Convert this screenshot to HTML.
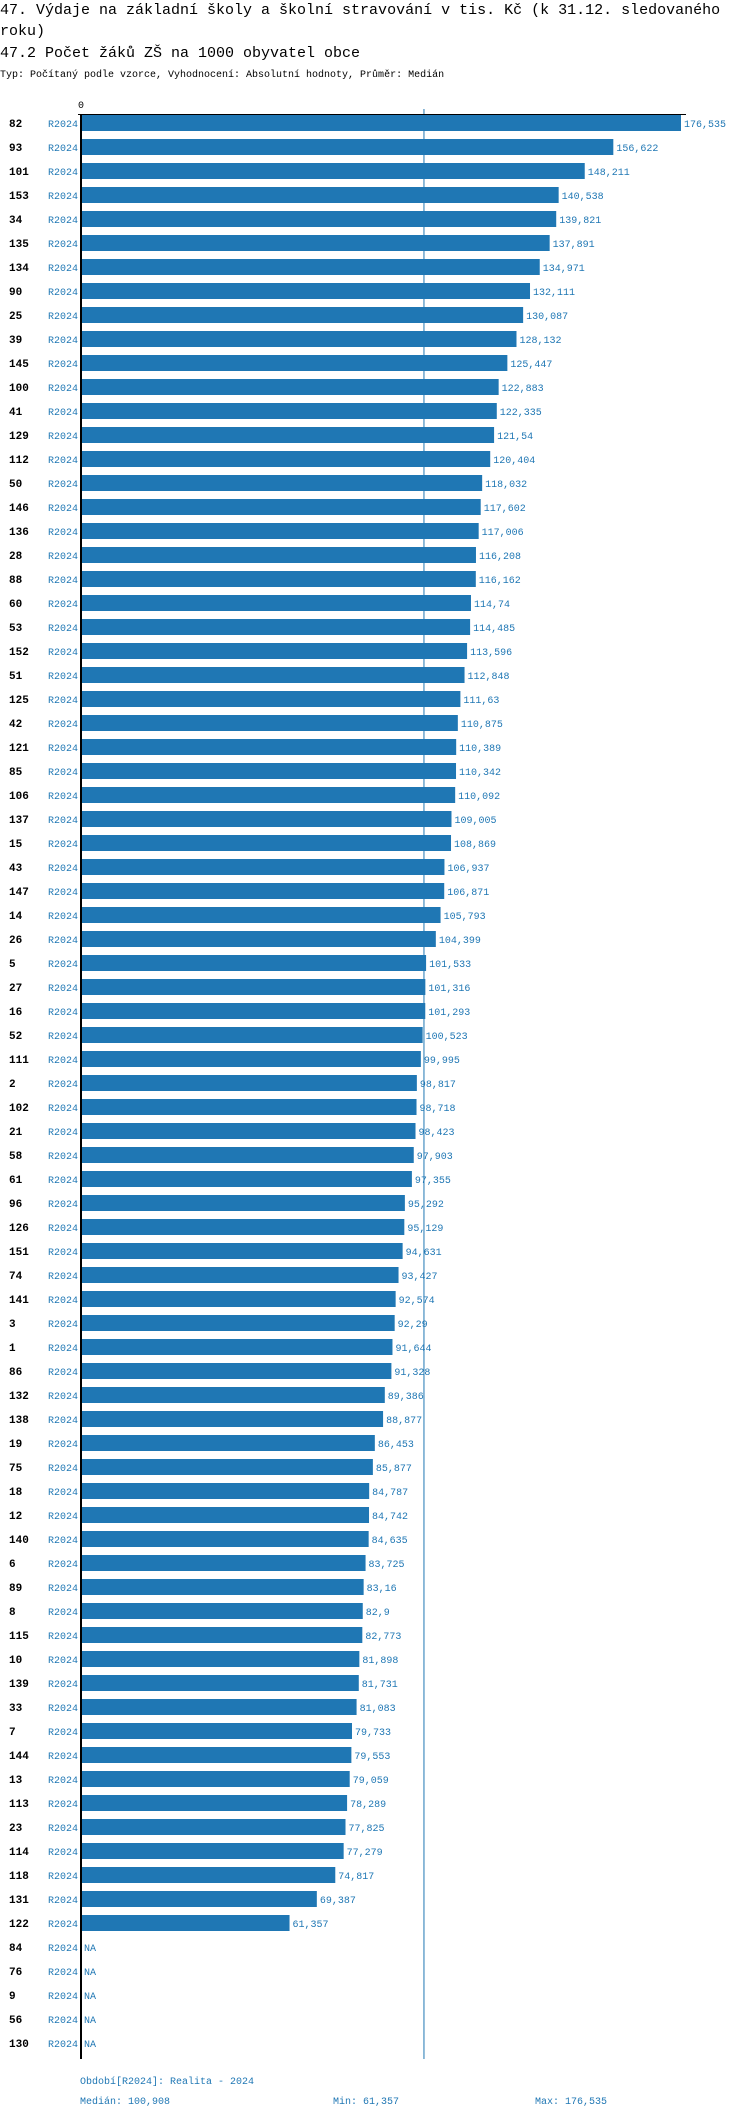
<!DOCTYPE html>
<html><head><meta charset="utf-8"><style>
body{margin:0;background:#fff;width:750px;height:2118px;overflow:hidden}
svg{display:block}
</style></head><body>
<svg id="chart" width="750" height="2118" xmlns="http://www.w3.org/2000/svg" font-family="Liberation Mono, DejaVu Sans Mono, monospace">
<text x="0" y="14" font-size="15" fill="#000">47. Výdaje na základní školy a školní stravování v tis. Kč (k 31.12. sledovaného</text>
<text x="0" y="35" font-size="15" fill="#000">roku)</text>
<text x="0" y="57" font-size="15" fill="#000">47.2 Počet žáků ZŠ na 1000 obyvatel obce</text>
<text x="0" y="77" font-size="10" fill="#000">Typ: Počítaný podle vzorce, Vyhodnocení: Absolutní hodnoty, Průměr: Medián</text>
<g id="marks"></g>
<text x="80" y="2084" font-size="10" fill="#1f77b4">Období[R2024]: Realita - 2024</text>
<text x="80" y="2104" font-size="10" fill="#1f77b4">Medián: 100,908</text>
<text x="333" y="2104" font-size="10" fill="#1f77b4">Min: 61,357</text>
<text x="535" y="2104" font-size="10" fill="#1f77b4">Max: 176,535</text>
</svg>
<script>
const categories=["82","93","101","153","34","135","134","90","25","39","145","100","41","129","112","50","146","136","28","88","60","53","152","51","125","42","121","85","106","137","15","43","147","14","26","5","27","16","52","111","2","102","21","58","61","96","126","151","74","141","3","1","86","132","138","19","75","18","12","140","6","89","8","115","10","139","33","7","144","13","113","23","114","118","131","122","84","76","9","56","130"];
const values=[176.535,156.622,148.211,140.538,139.821,137.891,134.971,132.111,130.087,128.132,125.447,122.883,122.335,121.54,120.404,118.032,117.602,117.006,116.208,116.162,114.74,114.485,113.596,112.848,111.63,110.875,110.389,110.342,110.092,109.005,108.869,106.937,106.871,105.793,104.399,101.533,101.316,101.293,100.523,99.995,98.817,98.718,98.423,97.903,97.355,95.292,95.129,94.631,93.427,92.574,92.29,91.644,91.328,89.386,88.877,86.453,85.877,84.787,84.742,84.635,83.725,83.16,82.9,82.773,81.898,81.731,81.083,79.733,79.553,79.059,78.289,77.825,77.279,74.817,69.387,61.357,null,null,null,null,null];
const valueLabels=["176,535","156,622","148,211","140,538","139,821","137,891","134,971","132,111","130,087","128,132","125,447","122,883","122,335","121,54","120,404","118,032","117,602","117,006","116,208","116,162","114,74","114,485","113,596","112,848","111,63","110,875","110,389","110,342","110,092","109,005","108,869","106,937","106,871","105,793","104,399","101,533","101,316","101,293","100,523","99,995","98,817","98,718","98,423","97,903","97,355","95,292","95,129","94,631","93,427","92,574","92,29","91,644","91,328","89,386","88,877","86,453","85,877","84,787","84,742","84,635","83,725","83,16","82,9","82,773","81,898","81,731","81,083","79,733","79,553","79,059","78,289","77,825","77,279","74,817","69,387","61,357","NA","NA","NA","NA","NA"];
const seriesName="R2024";
const medianValue=100.908;
const maxDomain=176.535;

const NS="http://www.w3.org/2000/svg";
const g=document.getElementById('marks');
const x0=81, x1=681;
function xScale(v){return x0+(v/maxDomain)*(x1-x0);}
function yCenter(i){return 123+24*i;}
function mk(tag,attrs){const e=document.createElementNS(NS,tag);for(const k in attrs)e.setAttribute(k,attrs[k]);g.appendChild(e);return e;}
const bottom=yCenter(categories.length-1)+16;
// median line
let ml=mk('line',{x1:xScale(medianValue),x2:xScale(medianValue),y1:109,y2:bottom,stroke:'#1f77b4','stroke-width':1});


categories.forEach((c,i)=>{
  const yc=yCenter(i);
  const lab=mk('text',{x:9,y:yc+4,'font-size':11,'font-weight':'bold',fill:'#000'});
  lab.textContent=c;
  
  
  const sl=mk('text',{x:48,y:yc+4,'font-size':10,fill:'#1f77b4'});
  sl.textContent=seriesName;
  
  
  const v=values[i];
  if(v!==null){
    const r=mk('rect',{x:x0,y:yc-8,width:xScale(v)-x0,height:16,fill:'#1f77b4'});
    
    
  }
  const vt=mk('text',{x:(v!==null?xScale(v):x0)+3,y:yc+4,'font-size':10,fill:'#1f77b4'});
  vt.textContent=valueLabels[i];
  
  
});
let ax=mk('line',{x1:x0,x2:x0,y1:114,y2:bottom,stroke:'#000','stroke-width':2});


let tx=mk('line',{x1:x0-3,x2:x1+5,y1:114.5,y2:114.5,stroke:'#000','stroke-width':1});


let z=mk('text',{x:x0-3,y:108,'font-size':10,fill:'#000'});
z.textContent='0';


</script>
</body></html>
